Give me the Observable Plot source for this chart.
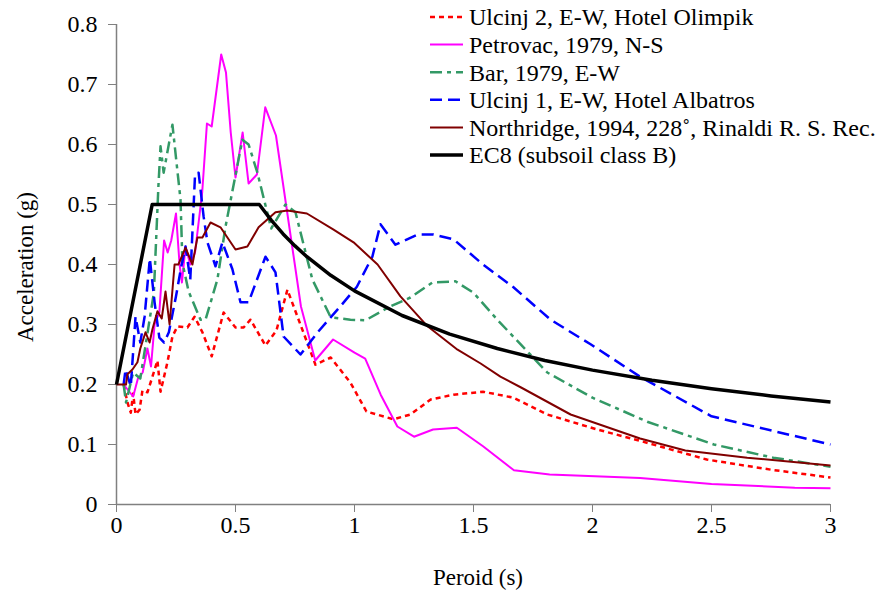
<!DOCTYPE html>
<html>
<head>
<meta charset="utf-8">
<script src="https://cdn.jsdelivr.net/npm/d3@7"></script>
<script src="https://cdn.jsdelivr.net/npm/@observablehq/plot@0.6"></script>
<style>
  html, body { margin: 0; padding: 0; background: white; }
  #chart svg { display: block; }
  #chart svg, #chart svg text { font-family: "Liberation Serif", "Times New Roman", serif !important; }
</style>
</head>
<body>
<div id="chart"></div>
<script>
// ---- Data ----
const xTicks = [0, 0.5, 1, 1.5, 2, 2.5, 3];
const yTicks = [0, 0.1, 0.2, 0.3, 0.4, 0.5, 0.6, 0.7, 0.8];

const seriesNames = [
  "Ulcinj 2, E-W, Hotel Olimpik",
  "Petrovac, 1979, N-S",
  "Bar, 1979, E-W",
  "Ulcinj 1, E-W, Hotel Albatros",
  "Northridge, 1994, 228˚, Rinaldi R. S. Rec.",
  "EC8 (subsoil class B)"
];

const ulcinj2 = [
  [0.03,0.20],[0.046,0.17],[0.06,0.153],[0.07,0.185],[0.08,0.15],[0.097,0.158],[0.109,0.19],[0.13,0.187],
  [0.151,0.213],[0.172,0.24],[0.185,0.188],[0.214,0.237],[0.235,0.28],[0.256,0.297],[0.298,0.295],
  [0.328,0.313],[0.361,0.287],[0.40,0.247],[0.45,0.32],[0.50,0.295],[0.534,0.295],[0.563,0.308],
  [0.626,0.265],[0.672,0.29],[0.718,0.358],[0.836,0.233],[0.90,0.245],[0.983,0.203],[1.05,0.155],
  [1.164,0.142],[1.235,0.15],[1.32,0.175],[1.416,0.183],[1.54,0.188],[1.668,0.178],[1.81,0.15],
  [2.02,0.125],[2.21,0.105],[2.48,0.075],[2.75,0.058],[3.0,0.045]
];

const petrovac = [
  [0.03,0.20],[0.05,0.19],[0.07,0.18],[0.09,0.21],[0.11,0.22],[0.13,0.26],[0.145,0.23],[0.16,0.30],
  [0.18,0.32],[0.20,0.44],[0.215,0.42],[0.23,0.44],[0.25,0.485],[0.265,0.40],[0.275,0.37],[0.29,0.43],
  [0.31,0.40],[0.33,0.42],[0.36,0.52],[0.38,0.635],[0.40,0.63],[0.44,0.75],[0.46,0.72],[0.48,0.62],
  [0.50,0.545],[0.53,0.62],[0.555,0.535],[0.59,0.55],[0.625,0.662],[0.67,0.615],[0.775,0.33],
  [0.835,0.24],[0.91,0.275],[1.0,0.253],[1.045,0.243],[1.11,0.183],[1.18,0.13],[1.25,0.113],
  [1.33,0.125],[1.43,0.128],[1.54,0.097],[1.67,0.057],[1.82,0.05],[2.2,0.044],[2.5,0.034],
  [2.85,0.028],[3.0,0.027]
];

const bar = [
  [0.03,0.20],[0.04,0.17],[0.07,0.22],[0.10,0.21],[0.12,0.26],[0.157,0.353],[0.176,0.53],[0.185,0.597],
  [0.198,0.553],[0.235,0.633],[0.269,0.508],[0.277,0.403],[0.303,0.355],[0.353,0.308],[0.374,0.308],
  [0.424,0.375],[0.458,0.463],[0.529,0.608],[0.555,0.60],[0.592,0.553],[0.65,0.46],[0.71,0.50],
  [0.752,0.487],[0.823,0.375],[0.90,0.312],[0.983,0.308],[1.046,0.307],[1.15,0.33],[1.235,0.345],
  [1.327,0.37],[1.424,0.372],[1.50,0.353],[1.60,0.308],[1.81,0.22],[2.0,0.178],[2.23,0.138],
  [2.51,0.10],[2.76,0.078],[3.0,0.063]
];

const ulcinj1 = [
  [0.03,0.20],[0.038,0.225],[0.06,0.197],[0.08,0.313],[0.10,0.27],[0.118,0.313],[0.14,0.41],[0.16,0.337],
  [0.18,0.278],[0.20,0.27],[0.22,0.287],[0.25,0.347],[0.27,0.392],[0.29,0.43],[0.31,0.375],[0.33,0.55],
  [0.345,0.553],[0.366,0.48],[0.382,0.437],[0.416,0.397],[0.445,0.437],[0.487,0.392],[0.521,0.337],
  [0.555,0.337],[0.626,0.413],[0.668,0.387],[0.702,0.28],[0.773,0.25],[0.845,0.287],[0.94,0.33],
  [1.01,0.363],[1.075,0.413],[1.109,0.467],[1.172,0.433],[1.265,0.45],[1.332,0.45],[1.416,0.442],
  [1.54,0.40],[1.584,0.387],[1.668,0.362],[1.824,0.308],[1.992,0.267],[2.2,0.213],[2.5,0.147],[3.0,0.10]
];

const northridge = [
  [0.0,0.20],[0.04,0.20],[0.046,0.217],[0.067,0.225],[0.088,0.237],[0.10,0.26],[0.122,0.287],[0.139,0.27],
  [0.151,0.292],[0.172,0.322],[0.19,0.31],[0.206,0.355],[0.223,0.30],[0.244,0.40],[0.26,0.40],
  [0.29,0.428],[0.319,0.40],[0.34,0.445],[0.361,0.445],[0.395,0.47],[0.437,0.462],[0.50,0.425],
  [0.55,0.43],[0.597,0.462],[0.668,0.487],[0.718,0.49],[0.80,0.485],[0.912,0.458],[0.996,0.437],
  [1.097,0.40],[1.193,0.347],[1.307,0.297],[1.433,0.258],[1.53,0.235],[1.613,0.213],[1.70,0.195],
  [1.908,0.15],[2.2,0.11],[2.39,0.09],[2.65,0.078],[3.0,0.065]
];

const ec8 = [
  [0,0.2],[0.15,0.5],[0.6,0.5],[0.65,0.474],[0.7,0.451],[0.75,0.431],[0.8,0.413],[0.9,0.382],
  [1.0,0.356],[1.2,0.315],[1.4,0.284],[1.6,0.26],[1.8,0.24],[2.0,0.224],[2.25,0.207],[2.5,0.193],
  [2.75,0.181],[3.0,0.171]
];

// ---- Styles ----
const styles = [
  {data: ulcinj2, stroke: "#FF0000", width: 2.5, dash: "5,4"},
  {data: petrovac, stroke: "#FF00FF", width: 2, dash: null},
  {data: bar, stroke: "#339966", width: 2.5, dash: "12,5,4,5"},
  {data: ulcinj1, stroke: "#0000FF", width: 2.5, dash: "12,6"},
  {data: northridge, stroke: "#800000", width: 2, dash: null},
  {data: ec8, stroke: "#000000", width: 3.5, dash: null}
];

const FONT = "Liberation Serif, Times New Roman, serif";
const AXIS = "#808080";

const lineMarks = styles.map(s => Plot.line(s.data, {
  x: d => d[0], y: d => d[1],
  stroke: s.stroke, strokeWidth: s.width,
  strokeDasharray: s.dash || undefined,
  strokeLinejoin: "round", strokeLinecap: "butt"
}));

const chart = Plot.plot({
  width: 886, height: 595,
  marginLeft: 116, marginRight: 56, marginTop: 24, marginBottom: 91,
  style: {fontFamily: FONT, fontSize: "24px", background: "white", color: "black", overflow: "visible"},
  x: {domain: [0, 3], label: null},
  y: {domain: [0, 0.8], label: null},
  marks: [
    Plot.axisX({ticks: xTicks, tickSize: 8, tickPadding: 3, stroke: AXIS, fill: "black", fontSize: 24, label: null, tickFormat: d => String(d)}),
    Plot.axisY({ticks: yTicks, tickSize: 8, tickPadding: 11, stroke: AXIS, fill: "black", fontSize: 24, label: null, tickFormat: d => String(d)}),
    Plot.ruleX([0], {stroke: AXIS, strokeWidth: 1.5}),
    Plot.ruleY([0], {stroke: AXIS, strokeWidth: 1.5}),
    ...lineMarks
  ]
});

document.getElementById("chart").appendChild(chart);

// ---- Axis titles and legend ----
const svg = d3.select(chart);
svg.append("text")
  .attr("transform", "translate(33,267) rotate(-90)")
  .attr("text-anchor", "middle")
  .attr("font-size", 23).attr("fill", "black")
  .text("Acceleration (g)");
svg.append("text")
  .attr("x", 478).attr("y", 585)
  .attr("text-anchor", "middle")
  .attr("font-size", 23).attr("fill", "black")
  .text("Peroid (s)");

const lg = svg.append("g").attr("text-anchor", "start");
styles.forEach((s, i) => {
  const cy = 17 + i * 27.6;
  lg.append("line")
    .attr("x1", 430).attr("x2", 463).attr("y1", cy).attr("y2", cy)
    .attr("stroke", s.stroke).attr("stroke-width", s.width)
    .attr("stroke-dasharray", s.dash);
  lg.append("text")
    .attr("x", 469).attr("y", cy).attr("dy", "0.35em")
    .attr("text-anchor", "start")
    .attr("font-size", 24).attr("fill", "black")
    .text(seriesNames[i]);
});
</script>
</body>
</html>
